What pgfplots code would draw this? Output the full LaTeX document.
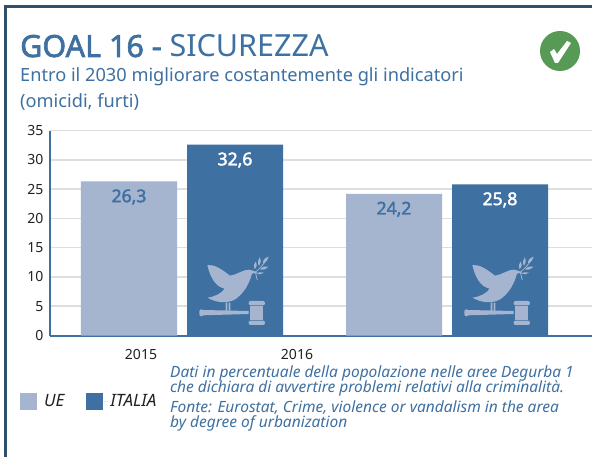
\documentclass[border=0pt]{standalone}
\usepackage{pgfplots}
\pgfplotsset{compat=1.18}
\usepackage{fontspec}
\setmainfont{Noto Sans}[BoldFont={Noto Sans},BoldFeatures={FakeBold=2.2}]
\definecolor{ue}{HTML}{A5B5D0}
\definecolor{ita}{HTML}{3E70A1}
\definecolor{frame}{HTML}{2F4F6B}
\definecolor{gridc}{HTML}{DEDEDE}
\definecolor{tx}{HTML}{222222}
\definecolor{okg}{HTML}{579A56}
\newcommand{\dove}[1]{%
\begin{scope}[shift={(#1+180,230)},x=0.3333pt,y=-0.3333pt]
 \fill[ue] (82,105) .. controls (105,103) and (125,118) .. (150,137)
   .. controls (170,135) and (190,118) .. (207,119)
   .. controls (215,120) and (222,123) .. (232,128)
   -- (216,131) .. controls (208,160) and (195,185) .. (170,205)
   .. controls (150,220) and (115,222) .. (82,203)
   .. controls (105,200) and (125,190) .. (134,176)
   .. controls (105,170) and (90,140) .. (82,105) -- cycle;
 \fill[ue] (137,218) rectangle (142,245) (146,218) rectangle (151,245);
 \fill[ue,rounded corners=2pt] (58,238) rectangle (70,259);
 \fill[ue] (68,240) -- (206,243) -- (206,252) -- (68,256) -- cycle;
 \fill[ue] (211,227) rectangle (249,271);
 \fill[ue,rounded corners=2pt] (206,213) rectangle (255,226);
 \fill[ue,rounded corners=2pt] (206,272) rectangle (255,285);
 \draw[ue,line width=0.8pt] (232,150) -- (226,126) .. controls (235,120) and (250,105) .. (262,85);
 \fill[ue] (224,118) .. controls (220,108) and (222,100) .. (227,95) .. controls (232,105) and (231,112) .. (224,118);
 \fill[ue] (237,108) .. controls (232,98) and (234,88) .. (239,82) .. controls (244,92) and (243,102) .. (237,108);
 \fill[ue] (250,100) .. controls (247,92) and (253,84) .. (266,80) .. controls (264,90) and (258,97) .. (250,100);
 \fill[ue] (240,118) .. controls (247,110) and (255,108) .. (265,110) .. controls (258,118) and (250,121) .. (240,118);
 \fill[ue] (228,130) .. controls (235,126) and (245,126) .. (252,128) .. controls (245,134) and (235,135) .. (228,130);
\end{scope}}
\begin{document}
\begin{tikzpicture}
\useasboundingbox (0pt,-457pt) rectangle (592pt,0pt);
\fill[white] (0pt,-457pt) rectangle (592pt,0pt);
\begin{axis}[
  at={(50pt,-335.5pt)}, anchor=south west,
  scale only axis, width=542pt, height=205pt,
  xmin=50, xmax=592, ymin=0, ymax=35,
  axis x line*=bottom, axis y line*=left,
  axis line style={ita,line width=2pt,-},
  xtick style={draw=none}, ytick style={draw=none},
  xmajorgrids=false, xminorgrids=false,
  xtick={141,297}, xticklabels={2015,2016},
  ytick={0,5,...,35},
  ymajorgrids=true, grid style={gridc,line width=1.5pt},
  tick label style={font=\fontsize{14}{14}\selectfont,text=tx},
  yticklabel style={/pgf/number format/assume math mode=true, xshift=-3pt},
  xticklabel style={/pgf/number format/assume math mode=true, yshift=-6pt},
  ybar, bar width=96, bar shift=0pt,
  nodes near coords, point meta=y,
  every node near coord/.append style={anchor=center,yshift=-15.5pt,font=\fontsize{17.5}{17.5}\selectfont\bfseries,
    /pgf/number format/fixed,/pgf/number format/fixed zerofill,/pgf/number format/precision=1,/pgf/number format/use comma,/pgf/number format/assume math mode=true},
  legend columns=2,
  legend style={at={(axis cs:17,-11.2)},anchor=west,draw=none,fill=none,font=\fontsize{17}{17}\selectfont\itshape,text=tx,
     /tikz/every even column/.append style={column sep=20pt}},
  legend image code/.code={\fill[#1] (0pt,-8.5pt) rectangle (17pt,8.5pt);\path (0pt,0pt) -- (22pt,0pt);},
  clip=false,
]
\addplot[fill=ue,draw=none,nodes near coords style={text=ita}] coordinates {(129,26.3) (394,24.2)};
\addplot[fill=ita,draw=none,nodes near coords style={text=white}] coordinates {(235,32.6) (500,25.8)};
\legend{UE,ITALIA}
\end{axis}
\begin{scope}[x=1pt,y=-1pt]
\dove{0}
\dove{265}
% frame
\fill[frame] (4,5) rectangle (592,8);
\fill[frame] (4,5) rectangle (7,457);
% titles
\node[anchor=base west,inner sep=0pt,text=ita,font=\fontsize{30.5}{30.5}\selectfont] at (20,57) {\textbf{GOAL 16 -} SICUREZZA};
\node[anchor=base west,inner sep=0pt,text=ita,font=\fontsize{18.2}{18.2}\selectfont] at (20,82) {Entro il 2030 migliorare costantemente gli indicatori};
\node[anchor=base west,inner sep=0pt,text=ita,font=\fontsize{18.2}{18.2}\selectfont] at (20,107.5) {(omicidi, furti)};
% check badge
\fill[okg] (560,51) ellipse (20 and 20);
\fill[white] (550,52) -- (554,49) -- (557,54) -- (567,41) -- (571,43) -- (558,63) -- (555,63) -- cycle;
% notes
\begin{scope}[every node/.style={anchor=base west,inner sep=0pt,text=ita,font=\fontsize{15.5}{15.5}\selectfont\itshape}]
\node at (170,377) {Dati in percentuale della popolazione nelle aree Degurba 1};
\node at (170,392) {che dichiara di avvertire problemi relativi alla criminalità.};
\node at (170,412.5) {Fonte: Eurostat, Crime, violence or vandalism in the area};
\node at (170,427) {by degree of urbanization};
\end{scope}
\end{scope}
\end{tikzpicture}
\end{document}
